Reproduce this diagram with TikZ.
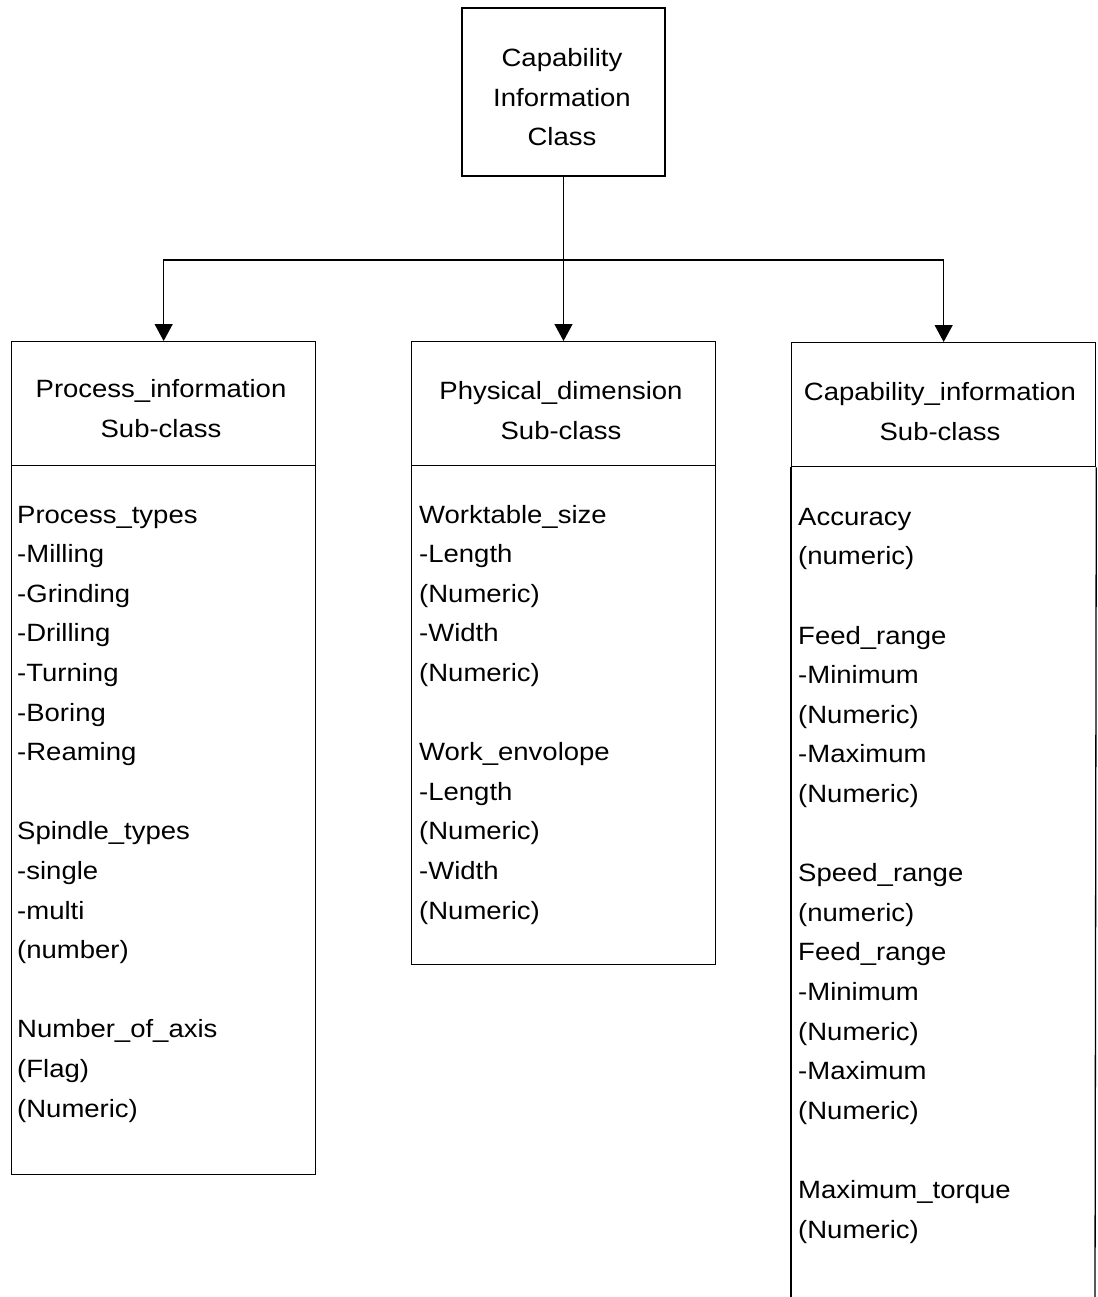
\documentclass[tikz,border=0pt]{standalone}
\usepackage{fontspec}
\setmainfont[FakeStretch=1.1]{Liberation Sans}
\usetikzlibrary{arrows.meta}
\begin{document}
\begin{tikzpicture}[x=1pt,y=-1pt,
  box/.style={draw, line width=1.3pt, inner sep=0pt, anchor=north west},
  txt/.style={font=\fontsize{25}{39.6}\selectfont, inner sep=0pt},
  body/.style={txt, align=left, anchor=base west},
  head/.style={txt, align=center, anchor=base},
  link/.style={line width=1.3pt, -{Triangle[width=18pt,length=17pt]}}]
\useasboundingbox (0,0) rectangle (1097,1297);

% main class (multi-line nodes are placed by the baseline of their last line)
\node[draw, line width=1.3pt, minimum width=203pt, minimum height=168pt, inner sep=0pt]
  (cls) at (563.5,92) {};
\node[head] (clsname) at (562,146) {Capability\\Information\\Class};

% sub-class boxes: header part and body part
\node[box, minimum width=304pt, minimum height=124pt] (phead) at (11,341) {};
\node[box, minimum width=304pt, minimum height=709pt] (pbody) at (11,465) {};
\node[box, minimum width=304pt, minimum height=124pt] (dhead) at (411,341) {};
\node[box, minimum width=304pt, minimum height=499pt] (dbody) at (411,465) {};
\node[box, minimum width=304pt, minimum height=124pt] (chead) at (791,342) {};
\coordinate (cbl) at (791,1300);
\coordinate (cbr) at (1095,1300);
\draw[line width=1.3pt] (chead.south west) -- (cbl);
\draw[line width=1.3pt] (chead.south east) -- (cbr);

% headers
\node[head] (ptitle) at (161,437.5) {Process\_information\\Sub-class};
\node[head] (dtitle) at (561,439) {Physical\_dimension\\Sub-class};
\node[head] (ctitle) at (940,440) {Capability\_information\\Sub-class};

% attribute lists
\node[body] (plist) at (17,1117) {Process\_types\\-Milling\\-Grinding\\-Drilling\\-Turning\\-Boring\\-Reaming\\[39.6pt]Spindle\_types\\-single\\-multi\\(number)\\[39.6pt]Number\_of\_axis\\(Flag)\\(Numeric)};
\node[body] (dlist) at (419,919) {Worktable\_size\\-Length\\(Numeric)\\-Width\\(Numeric)\\[39.6pt]Work\_envolope\\-Length\\(Numeric)\\-Width\\(Numeric)};
\node[body] (clist) at (798,1238) {Accuracy\\(numeric)\\[39.6pt]Feed\_range\\-Minimum\\(Numeric)\\-Maximum\\(Numeric)\\[39.6pt]Speed\_range\\(numeric)\\Feed\_range\\-Minimum\\(Numeric)\\-Maximum\\(Numeric)\\[39.6pt]Maximum\_torque\\(Numeric)};

% connectors
\coordinate (hub) at (563.5,260);
\draw[link] (cls.south) -- (dhead.north -| cls.south);
\draw[link] (hub) -| (phead.north);
\draw[link] (hub) -| (chead.north);
\end{tikzpicture}
\end{document}
